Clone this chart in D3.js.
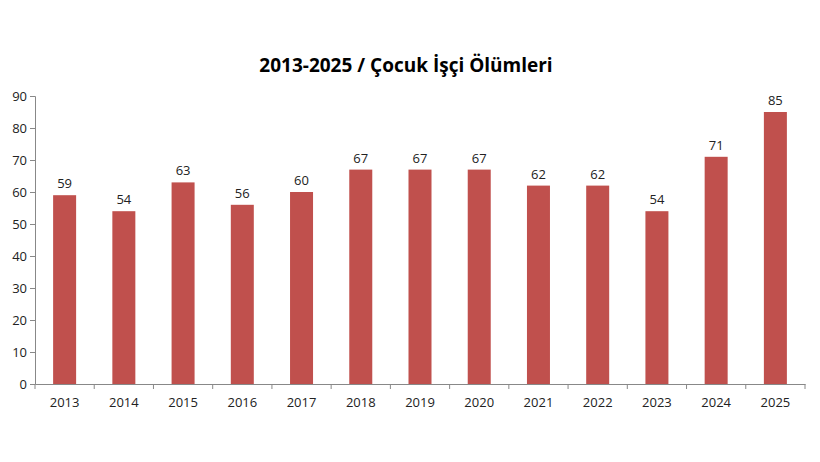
<!DOCTYPE html><html><head><meta charset="utf-8"><script src="https://cdn.jsdelivr.net/npm/d3@7"></script>
<style>body{margin:0;background:#fff}text{font-family:"Open Sans",sans-serif}</style></head><body><svg id="c" width="820" height="462"></svg>
<script>
const years=["2013","2014","2015","2016","2017","2018","2019","2020","2021","2022","2023","2024","2025"];
const deaths=[59,54,63,56,60,67,67,67,62,62,54,71,85];
const yTicks=[0,10,20,30,40,50,60,70,80,90];
const svg=d3.select("#c");
const L=35,R=805,T=96,B=384;
const x=d3.scaleBand().domain(years).range([L,R]);
const y=d3.scaleLinear().domain([0,90]).range([B,T]);
const bw=23;
svg.append("text").attr("x",406).attr("y",72).attr("text-anchor","middle").attr("font-size",19).attr("font-weight","bold").text("2013-2025 / Çocuk İşçi Ölümleri");
svg.selectAll("rect").data(deaths).join("rect").attr("x",(d,i)=>x(years[i])+x.bandwidth()/2-bw/2).attr("width",bw).attr("y",d=>y(d)).attr("height",d=>B-y(d)).attr("fill","#c0504d");
svg.selectAll(".lab").data(deaths).join("text").attr("x",(d,i)=>x(years[i])+x.bandwidth()/2).attr("y",d=>y(d)-7).attr("text-anchor","middle").attr("font-size",13).attr("fill","#222").text(d=>d);
const ya=svg.append("g").attr("transform",`translate(${L},0)`).call(d3.axisLeft(y).tickValues(yTicks).tickSize(5));
ya.selectAll("text").attr("font-size",13).attr("fill","#222");
const xa=svg.append("g").attr("transform",`translate(0,${B})`).call(d3.axisBottom(x).tickSize(0).tickPadding(14));
xa.selectAll("text").attr("font-size",13).attr("fill","#222");
xa.selectAll(".sep").data(years.concat(["end"])).join("line").attr("x1",(d,i)=>L+i*x.step()).attr("x2",(d,i)=>L+i*x.step()).attr("y1",0).attr("y2",5).attr("stroke","#888");
svg.selectAll(".domain").attr("stroke","#888");ya.selectAll(".tick line").attr("stroke","#888");
</script></body></html>
